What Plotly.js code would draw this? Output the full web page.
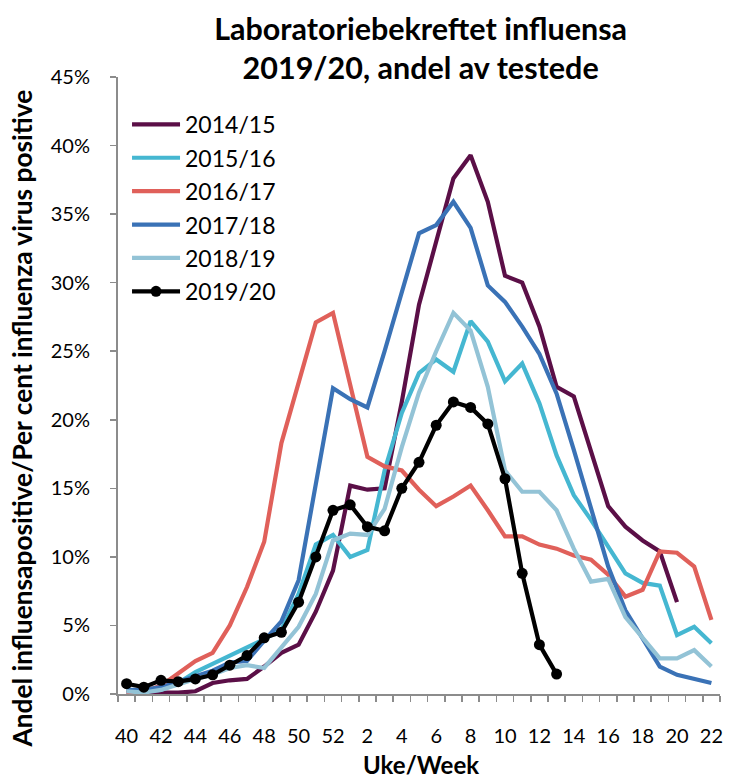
<!DOCTYPE html>
<html>
<head>
<meta charset="utf-8">
<script src="https://cdn.plot.ly/plotly-3.0.1.min.js"></script>
<style>html,body{margin:0;padding:0;background:#fff;}#chart{width:729px;height:779px;}</style>
</head>
<body>
<div id="chart"></div>
<script>
// Week labels (category axis)
const weeks = [40,41,42,43,44,45,46,47,48,49,50,51,52,1,2,3,4,5,6,7,8,9,10,11,12,13,14,15,16,17,18,19,20,21,22];

// Percent influenza positive per season
const s2014_15 = [0.0,0.0,0.1,0.1,0.2,0.8,1.0,1.1,2.0,3.0,3.6,6.0,9.0,15.2,14.9,15.0,21.3,28.4,33.0,37.6,39.3,35.9,30.5,30.0,26.8,22.4,21.7,17.7,13.7,12.2,11.2,10.4,6.7,null,null];
const s2015_16 = [0.1,0.2,0.3,0.8,1.6,2.2,2.8,3.4,4.0,4.7,7.3,10.9,11.6,10.0,10.5,16.3,20.5,23.4,24.4,23.5,27.2,25.7,22.8,24.1,21.2,17.4,14.5,12.7,10.7,8.8,8.1,7.9,4.3,4.9,3.7];
const s2016_17 = [0.1,0.2,0.6,1.5,2.4,3.0,5.0,7.8,11.1,18.3,22.8,27.1,27.8,22.5,17.3,16.6,16.3,14.9,13.7,14.4,15.2,13.4,11.5,11.5,10.9,10.6,10.1,9.8,8.7,7.1,7.6,10.4,10.3,9.3,5.4];
const s2017_18 = [0.3,0.3,0.5,0.9,1.3,1.7,2.3,2.4,3.9,5.3,8.3,15.3,22.3,21.5,20.9,25.0,29.2,33.6,34.2,35.9,34.0,29.8,28.6,26.8,24.8,21.9,17.8,13.5,9.3,6.1,4.0,2.0,1.4,1.1,0.8];
const s2018_19 = [0.2,0.1,0.3,0.7,1.1,1.4,1.9,2.1,1.9,3.4,4.9,7.3,11.2,11.7,11.6,13.5,18.0,22.0,25.0,27.8,26.5,22.4,16.3,14.75,14.75,13.4,10.6,8.2,8.4,5.6,4.1,2.6,2.6,3.2,2.0];
const s2019_20 = [0.75,0.5,1.0,0.9,1.1,1.4,2.1,2.8,4.1,4.5,6.7,10.0,13.4,13.8,12.2,11.9,15.0,16.9,19.6,21.3,20.9,19.7,15.7,8.8,3.6,1.45];

const seasonNames = ["2014/15","2015/16","2016/17","2017/18","2018/19","2019/20"];
const seasonData = [s2014_15, s2015_16, s2016_17, s2017_18, s2018_19, s2019_20];
const seasonColors = ["#5b0f47","#45b7d1","#e0605a","#3a72b6","#93c3d6","#000000"];

const yTicks = [0,5,10,15,20,25,30,35,40,45];

const cats = weeks.map(String);
const FONT = "Lato, 'Open Sans', sans-serif";

const traces = seasonData.map((vals, k) => {
  const isCurrent = k === seasonData.length - 1;
  const t = {
    type: 'scatter',
    mode: isCurrent ? 'lines+markers' : 'lines',
    name: seasonNames[k],
    legendgroup: 'g' + k,
    x: cats.slice(0, vals.length),
    y: vals,
    connectgaps: false,
    line: {color: seasonColors[k], width: 4.2},
    hoverinfo: 'skip'
  };
  if (isCurrent) t.marker = {color: seasonColors[k], size: 11};
  return t;
});

const layout = {
  width: 729,
  height: 779,
  margin: {l: 118, r: 9, t: 77, b: 85, pad: 0},
  paper_bgcolor: '#ffffff',
  plot_bgcolor: '#ffffff',
  font: {family: FONT, color: '#000000', size: 18},
  title: {
    text: '<b>Laboratoriebekreftet influensa<br>2019/20, andel av testede</b>',
    font: {family: FONT, size: 30.5, color: '#000000'},
    xref: 'container', yref: 'container',
    x: 0.577, xanchor: 'center',
    y: 0.949, yanchor: 'middle'
  },
  showlegend: true,
  legend: {
    x: 0.015, y: 0.958, xanchor: 'left', yanchor: 'top',
    bgcolor: 'rgba(0,0,0,0)',
    font: {family: FONT, size: 23, color: '#000000'},
    traceorder: 'grouped',
    tracegroupgap: 0.5,
    itemwidth: 48
  },
  annotations: [{
    text: '<b>Andel influensapositive/Per cent influenza virus positive</b>',
    textangle: -90,
    xref: 'paper', yref: 'paper',
    x: -0.159, y: 0.447,
    xanchor: 'center', yanchor: 'middle',
    showarrow: false,
    font: {family: FONT, size: 26.3, color: '#000000'}
  }, {
    text: '<b>Uke/Week</b>',
    xref: 'paper', yref: 'paper',
    x: 0.503, y: -0.115,
    xanchor: 'center', yanchor: 'middle',
    showarrow: false,
    font: {family: FONT, size: 24, color: '#000000'}
  }],
  xaxis: {
    type: 'category',
    categoryorder: 'array',
    categoryarray: cats,
    range: [-0.5, cats.length - 0.5],
    tickmode: 'array',
    tickvals: cats,
    ticktext: cats.map((c, i) => (i % 2 === 0 ? c : '')),
    tickson: 'boundaries',
    tickangle: 0,
    ticks: 'outside',
    ticklen: 6,
    tickwidth: 1.5,
    tickcolor: '#8c8c8c',
    ticklabelstandoff: 23,
    showline: true,
    linecolor: '#8c8c8c',
    linewidth: 2,
    showgrid: false,
    zeroline: false,
    tickfont: {family: FONT, size: 20, color: '#000000'}
  },
  yaxis: {
    range: [0, 45],
    tickmode: 'array',
    tickvals: yTicks,
    ticktext: yTicks.map(v => v + '%'),
    ticks: 'outside',
    ticklen: 6,
    tickwidth: 1.5,
    tickcolor: '#8c8c8c',
    ticklabelstandoff: 16,
    showline: true,
    linecolor: '#8c8c8c',
    linewidth: 2,
    showgrid: false,
    zeroline: false,
    tickfont: {family: FONT, size: 20, color: '#000000'}
  }
};

Plotly.newPlot('chart', traces, layout, {displayModeBar: false, staticPlot: true});
</script>
</body>
</html>
